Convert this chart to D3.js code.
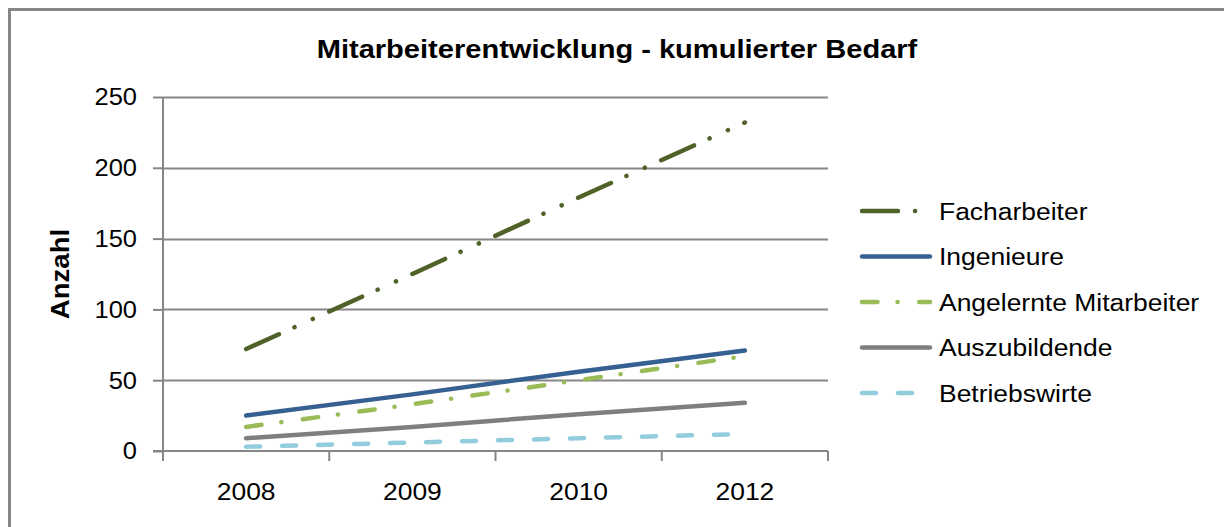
<!DOCTYPE html>
<html lang="de">
<head>
    <meta charset="UTF-8">
    <title>Mitarbeiterentwicklung</title>
    <script src="https://cdn.jsdelivr.net/npm/d3@7"></script>
    <style>
        body{margin:0;background:#fff;}
        text{font-family:"Liberation Sans",Arial,sans-serif;fill:#000;}
    </style>
</head>
<body>
<script>
    // data
    var years=["2008","2009","2010","2012"];
    var seriesNames=["Facharbeiter","Ingenieure","Angelernte Mitarbeiter","Auszubildende","Betriebswirte"];
    var facharbeiter=[72,125,179,232];
    var ingenieure=[25,40,56,71];
    var angelernte=[17,33,50,67];
    var auszubildende=[9,17,26,34];
    var betriebswirte=[3,6,9,12];
    var yTicks=[0,50,100,150,200,250];

    var seriesValues=[facharbeiter,ingenieure,angelernte,auszubildende,betriebswirte];
    var colors=["#4f6228","#376092","#9bbb59","#7f7f7f","#93cddd"];
    var dashes=["36,17,0.1,20,0.1,18","none","15.5,20,0.1,21.5","none","14,22"];

    var width=1224,height=527;
    var plot={left:163,right:828,top:97,bottom:451};

    // text in the picture is a little wider than the font, stretch it sideways
    function stretch(sel,k){
        sel.each(function(){
            var t=d3.select(this);
            var x=+t.attr("x")||0,y=+t.attr("y")||0;
            t.attr("x",0).attr("y",0)
             .attr("transform","translate("+x+","+y+") scale("+k+",1)");
        });
    }

    var svg=d3.select("body").append("svg")
        .attr("width",width)
        .attr("height",height);

    // chart frame
    svg.append("rect")
        .attr("x",9.5).attr("y",9.5)
        .attr("width",width).attr("height",height)
        .attr("fill","none")
        .attr("stroke","#868686")
        .attr("stroke-width",3);

    svg.append("text")
        .attr("x",617).attr("y",58)
        .attr("text-anchor","middle")
        .style("font-size","25.5px")
        .style("font-weight","bold")
        .text("Mitarbeiterentwicklung - kumulierter Bedarf")
        .call(stretch,1.14);

    var xScale=d3.scaleBand().domain(years).range([plot.left,plot.right]);
    var yScale=d3.scaleLinear().domain([0,250]).range([plot.bottom,plot.top]);

    // gridlines
    svg.append("g")
        .selectAll("line").data(yTicks.slice(1)).enter().append("line")
        .attr("x1",plot.left).attr("x2",plot.right)
        .attr("y1",function(d){return Math.round(yScale(d))+0.5;})
        .attr("y2",function(d){return Math.round(yScale(d))+0.5;})
        .attr("stroke","#868686")
        .attr("stroke-width",2);

    // y axis
    var yAxis=d3.axisLeft(yScale).tickValues(yTicks).tickSize(10).tickPadding(16);
    var gy=svg.append("g")
        .attr("transform","translate("+plot.left+",0)")
        .call(yAxis);
    gy.select(".domain").remove();
    gy.append("line")
        .attr("x1",0).attr("x2",0)
        .attr("y1",plot.top).attr("y2",plot.bottom+10)
        .attr("stroke","#868686").attr("stroke-width",2);
    gy.selectAll(".tick line").attr("stroke","#868686").attr("stroke-width",2);
    gy.selectAll(".tick text").style("font-size","24.5px").attr("fill","#000")
        .call(stretch,1.04);

    // x axis
    var xAxis=d3.axisBottom(xScale).tickSize(0).tickPadding(32);
    var gx=svg.append("g")
        .attr("transform","translate(0,"+plot.bottom+")")
        .call(xAxis);
    gx.select(".domain").remove();
    gx.append("line")
        .attr("x1",plot.left-10).attr("x2",plot.right)
        .attr("y1",0).attr("y2",0)
        .attr("stroke","#868686").attr("stroke-width",2);
    gx.selectAll(".sep").data(years).enter().append("line")
        .attr("x1",function(d){return xScale(d)+xScale.bandwidth();})
        .attr("x2",function(d){return xScale(d)+xScale.bandwidth();})
        .attr("y1",0).attr("y2",10)
        .attr("stroke","#868686").attr("stroke-width",2);
    gx.selectAll(".tick text").style("font-size","24.5px").attr("fill","#000").attr("dy","0.71em")
        .call(stretch,1.08);

    svg.append("text")
        .attr("transform","translate(69,274) rotate(-90) scale(1.06,1)")
        .attr("text-anchor","middle")
        .style("font-size","26px")
        .style("font-weight","bold")
        .text("Anzahl");

    // lines
    var line=d3.line()
        .x(function(d,i){return xScale(years[i])+xScale.bandwidth()/2;})
        .y(function(d){return yScale(d);});

    svg.append("g").selectAll("path").data(seriesValues).enter().append("path")
        .attr("d",line)
        .attr("fill","none")
        .attr("stroke",function(d,i){return colors[i];})
        .attr("stroke-width",4.5)
        .attr("stroke-linecap","round")
        .attr("stroke-dasharray",function(d,i){return dashes[i];});

    // legend
    var legend=svg.append("g").selectAll("g").data(seriesNames).enter().append("g")
        .attr("transform",function(d,i){return "translate(860,"+(211+i*45.5)+")";});
    legend.append("line")
        .attr("x1",2).attr("x2",70)
        .attr("stroke",function(d,i){return colors[i];})
        .attr("stroke-width",4.5)
        .attr("stroke-linecap","round")
        .attr("stroke-dasharray",function(d,i){return dashes[i];});
    legend.append("text")
        .attr("x",79).attr("y",8.5)
        .style("font-size","24.5px")
        .text(function(d){return d;})
        .call(stretch,1.08);
</script>
</body>
</html>
